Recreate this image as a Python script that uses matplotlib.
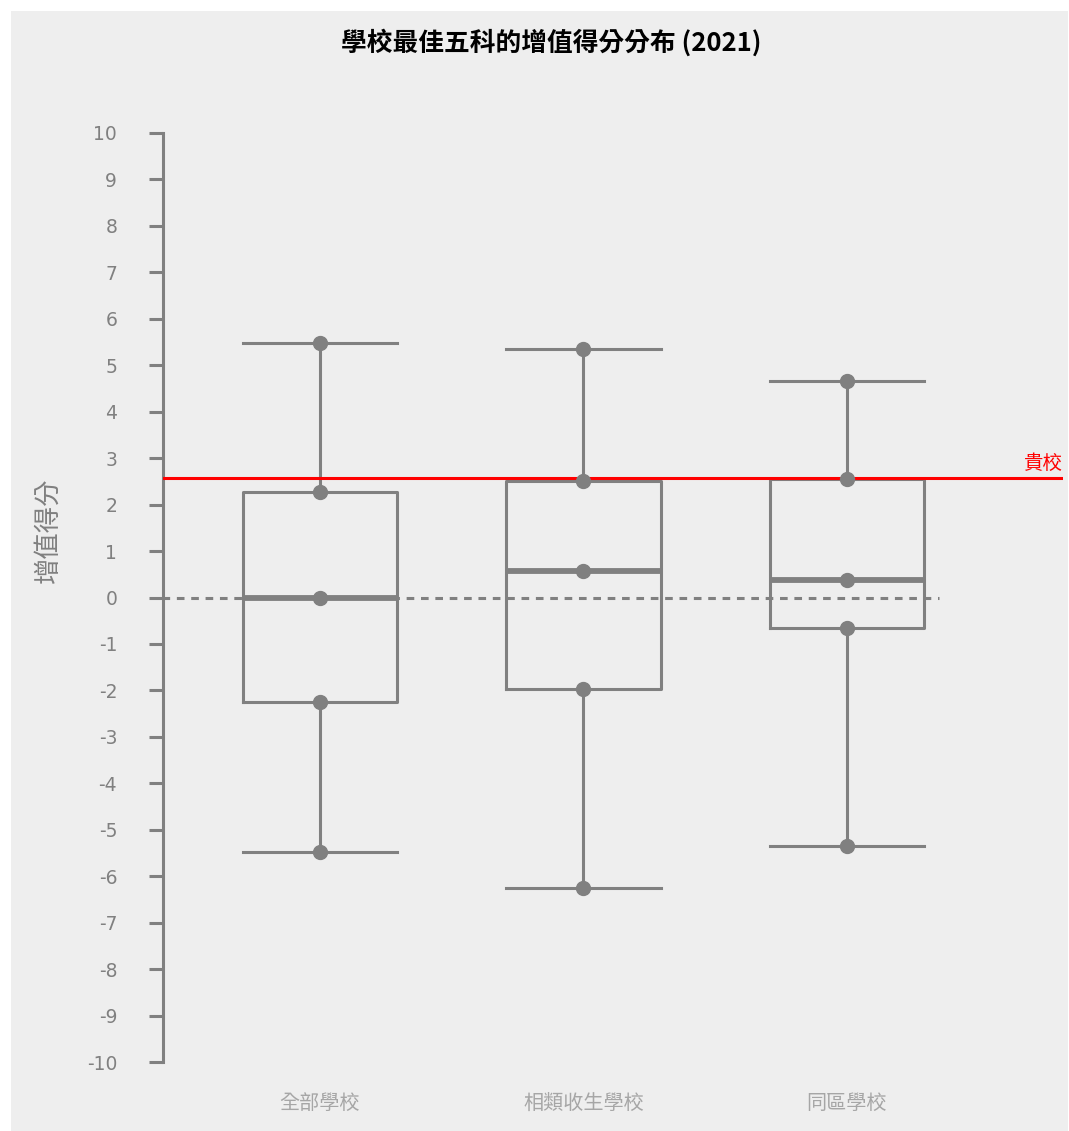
import matplotlib
matplotlib.use("Agg")
import matplotlib.pyplot as plt
from matplotlib.patches import Rectangle

plt.rcParams['font.family'] = ['Noto Sans CJK TC', 'DejaVu Sans']

# data
groups = ['全部學校', '相類收生學校', '同區學校']
whisker_hi = [5.47, 5.34, 4.67]
q3 = [2.28, 2.50, 2.56]
medians = [0.0, 0.56, 0.37]
q1 = [-2.26, -1.96, -0.65]
whisker_lo = [-5.47, -6.26, -5.34]
school_score = 2.58
yticks = list(range(-10, 11))

grey = '#808080'
fig = plt.figure(figsize=(10.69, 11.31), dpi=100, facecolor='white')
fig.patches.append(Rectangle((11 / 1069, 0.0), 1057 / 1069, 1 - 11 / 1131,
                             transform=fig.transFigure, facecolor='#eeeeee',
                             edgecolor='none', zorder=-5))

ax = fig.add_axes([163 / 1069, 1 - 1062 / 1131, 900 / 1069, 929 / 1131])
ax.set_facecolor('none')

pos = list(range(len(groups)))
stats = []
for i in pos:
    stats.append(dict(med=medians[i], q1=q1[i], q3=q3[i],
                      whislo=whisker_lo[i], whishi=whisker_hi[i], fliers=[]))

lw = 2.2
ax.bxp(stats, positions=pos, widths=0.585, capwidths=0.585, showfliers=False,
       boxprops=dict(color=grey, linewidth=lw),
       whiskerprops=dict(color=grey, linewidth=lw),
       capprops=dict(color=grey, linewidth=lw),
       medianprops=dict(color=grey, linewidth=4.2),
       zorder=3)

# dots on each statistic
for i in pos:
    vals = [whisker_hi[i], q3[i], medians[i], q1[i], whisker_lo[i]]
    ax.plot([i] * len(vals), vals, 'o', color=grey, markersize=10, zorder=6)

# zero reference line
ax.plot([-0.6, 2.35], [0, 0], color=grey, linewidth=2.2, dashes=(2.5, 2.2),
        zorder=2)

# the school's own score
ax.axhline(school_score, color='#ff0000', linewidth=2.2, zorder=5)
ax.text(2.82, school_score + 0.08, '貴校', color='#ff0000', fontsize=14,
        ha='right', va='bottom')

ax.set_xlim(-0.596, 2.82)
ax.set_ylim(-10, 10)
ax.set_yticks(yticks)
ax.set_yticklabels([str(t) for t in yticks], fontsize=13.5, color=grey,
                   family='DejaVu Sans')
ax.set_xticks(pos)
ax.set_xticklabels(groups, fontsize=14.5, color='#a6a6a6')
ax.tick_params(axis='x', length=0, pad=22)
ax.tick_params(axis='y', length=10, width=lw, color=grey, pad=23)

for s in ['top', 'right', 'bottom']:
    ax.spines[s].set_visible(False)
ax.spines['left'].set_color(grey)
ax.spines['left'].set_linewidth(lw)

fig.text(48 / 1069, 1 - 530 / 1131, '增值得分', rotation=90, fontsize=19,
         color=grey, ha='center', va='center')
fig.text(551 / 1069, 1 - 43 / 1131, '學校最佳五科的增值得分分布 (2021)',
         fontsize=18.5, fontweight='bold', ha='center', va='center')

fig.savefig('out.png', dpi=100, facecolor=fig.get_facecolor())
